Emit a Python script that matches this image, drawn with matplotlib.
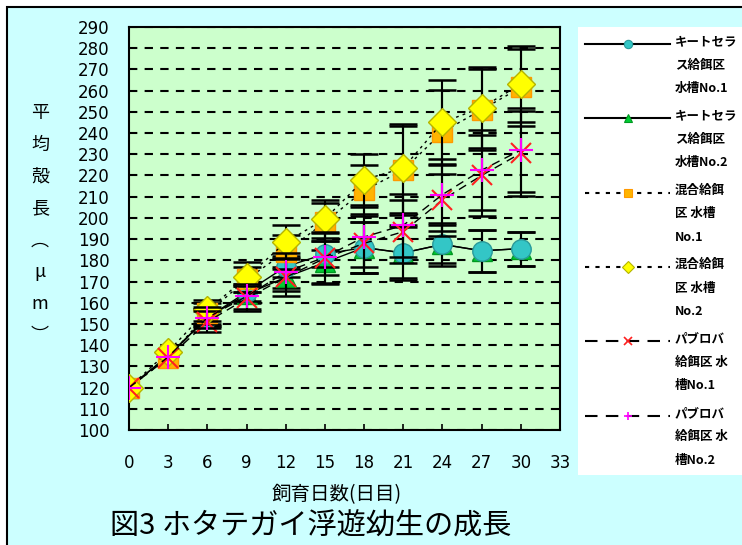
import matplotlib
matplotlib.use('Agg')
import matplotlib.pyplot as plt
import numpy as np
from matplotlib.patches import Rectangle
from matplotlib.lines import Line2D
from matplotlib.legend_handler import HandlerLine2D

plt.rcParams['font.family'] = ['Noto Sans CJK JP', 'DejaVu Sans']

# ---------------- data ----------------
days = [0, 3, 6, 9, 12, 15, 18, 21, 24, 27, 30]

kc1 = [120, 135, 153, 165, 177, 183, 186, 183.5, 187.5, 184.5, 185.5]
kc1_sd = [0, 0, 4, 4, 5, 6, 12, 13, 10, 10, 8]
kc2 = [120, 135, 153, 164, 172, 179, 186, 183.5, 187.5, 184.5, 185.5]
kc2_sd = [0, 0, 4, 4, 5, 6, 12, 12, 9, 10, 8]
mix1 = [120, 134, 155, 171, 184, 198, 213, 222.5, 240.5, 251, 261.5]
mix1_sd = [0, 0, 5, 6, 8, 9, 12, 21, 20, 19, 18]
mix2 = [120, 137, 156.5, 172, 188.5, 199.5, 218, 223.5, 245, 252, 263]
mix2_sd = [0, 0, 5, 7, 8, 9, 12, 21, 20, 19, 18]
pav1 = [120, 134, 151, 162, 172, 181, 188, 193.5, 208.5, 220, 230.5]
pav1_sd = [0, 0, 5, 6, 9, 12, 14, 15, 17, 19, 20]
pav2 = [120, 134.5, 153, 163, 174.5, 181.5, 191, 196.5, 211, 222.5, 232]
pav2_sd = [0, 0, 5, 6, 9, 12, 14, 15, 17, 19, 20]

labels = ["キートセラ\nス給餌区\n水槽No.1",
          "キートセラ\nス給餌区\n水槽No.2",
          "混合給餌\n区 水槽\nNo.1",
          "混合給餌\n区 水槽\nNo.2",
          "パブロバ\n給餌区 水\n槽No.1",
          "パブロバ\n給餌区 水\n槽No.2"]

x_ticks = list(range(0, 34, 3))
y_ticks = list(range(100, 291, 10))
title = "図3 ホタテガイ浮遊幼生の成長"
xlabel = "飼育日数(日目)"
ylabel_chars = ["平", "均", "殻", "長", "︵", "μ", "m", "︶"]

# ---------------- figure ----------------
W, H = 742, 545
fig = plt.figure(figsize=(W / 100, H / 100), dpi=100, facecolor='white')
fig.patches.append(Rectangle((7 / W, -0.1), 1.2, 1 - 7 / H + 0.1,
                             transform=fig.transFigure, facecolor='#CCFFFF',
                             edgecolor='black', lw=1.5, zorder=-2))
fig.patches.append(Rectangle((578 / W, 1 - 475 / H), 1.0, (475 - 27) / H,
                             transform=fig.transFigure, facecolor='white',
                             edgecolor='none', zorder=-1))

ax = fig.add_axes([129 / W, 1 - 430 / H, 431 / W, 403 / H])
ax.set_facecolor('#CCFFCC')
for s in ax.spines.values():
    s.set_color('black')
    s.set_linewidth(1.5)

series = [
    (kc1, kc1_sd, '-', 'o', '#33C6C6', '#2A9A9A', 14, 4),
    (kc2, kc2_sd, '-', '^', '#00CC33', '#009922', 14, 3),
    (mix1, mix1_sd, (0, (2, 3)), 's', '#FFB400', '#FF9900', 15, 5),
    (mix2, mix2_sd, (0, (2, 3)), 'D', '#FFFF00', '#B4B400', 14, 6),
    (pav1, pav1_sd, (0, (6, 4)), 'x', '#FF2020', '#FF2020', 15, 7),
    (pav2, pav2_sd, (0, (6, 4)), '+', '#FF00FF', '#FF00FF', 17, 8),
]

d_arr = np.asarray(days, dtype=float)
handles = []
for vals, sd, ls, mk, fc, ec, ms, z in series:
    v_arr = np.asarray(vals, dtype=float)
    s_arr = np.asarray(sd, dtype=float)
    keep = s_arr > 0
    ax.errorbar(d_arr[keep], v_arr[keep], yerr=s_arr[keep], fmt='none',
                ecolor='black', elinewidth=1.5, capsize=10, capthick=1.8, zorder=z)
    ax.plot(days, vals, color='black', lw=1.0, linestyle=ls, zorder=z)
    mew = 1.5 if mk in ('x', '+') else 1.0
    ax.plot(days, vals, linestyle='none', marker=mk, markersize=ms,
            markerfacecolor=fc, markeredgecolor=ec, markeredgewidth=mew, zorder=z + 0.5)
    handles.append(Line2D([], [], color='black', lw=1.5, linestyle=ls, marker=mk,
                          markersize=6, markerfacecolor=fc, markeredgecolor=ec,
                          markeredgewidth=1.2 if mk in ('x', '+') else 0.8))

ax.set_xlim(0, 33)
ax.set_ylim(100, 290)
ax.set_xticks(x_ticks)
ax.set_yticks(y_ticks)
ax.tick_params(axis='both', direction='in', length=4, width=1.2, colors='black',
               labelsize=12)
ax.tick_params(axis='y', pad=14)
ax.tick_params(axis='x', pad=17)
for t in ax.get_xticklabels() + ax.get_yticklabels():
    t.set_family('DejaVu Sans')
ax.yaxis.grid(True, color='black', linestyle=(0, (4, 3.5)), linewidth=1.5)
ax.set_axisbelow(True)

ax.set_ylabel("\n".join(ylabel_chars), rotation=0, fontsize=13, linespacing=1.98,
              va='center', ha='center')
ax.yaxis.set_label_coords((40 - 129) / 431, 0.51)

fig.text(337 / W, 1 - 495 / H, xlabel, fontsize=14, ha='center', va='center')
fig.text(311 / W, 1 - 527 / H, title, fontsize=21, ha='center', va='center')


class TopLineHandler(HandlerLine2D):
    def create_artists(self, legend, orig_handle, xdescent, ydescent, width,
                       height, fontsize, trans):
        arts = super().create_artists(legend, orig_handle, xdescent, ydescent,
                                      width, height, fontsize, trans)
        shift = fontsize * 1.75
        for a in arts:
            a.set_ydata(np.asarray(a.get_ydata(), dtype=float) + shift)
        return arts


leg = fig.legend(handles, labels, loc='upper left',
                 bbox_to_anchor=(580 / W, 1 - 30 / H), frameon=False,
                 fontsize=9, handlelength=6.8, handletextpad=0.4,
                 labelspacing=1.15, borderaxespad=0,
                 handler_map={Line2D: TopLineHandler(numpoints=1)},
                 prop={'weight': 'bold', 'size': 9})
for t in leg.get_texts():
    t.set_linespacing(2.05)

fig.savefig('out.png', dpi=100, facecolor=fig.get_facecolor())
